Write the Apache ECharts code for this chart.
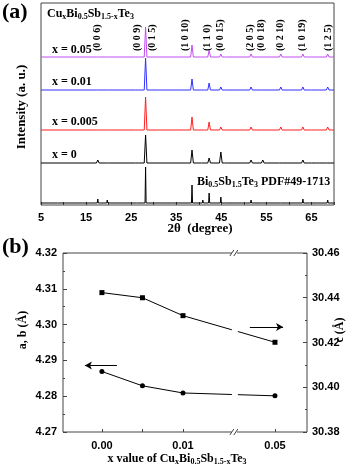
<!DOCTYPE html>
<html>
<head>
<meta charset="utf-8">
<script src="https://cdn.jsdelivr.net/npm/echarts@6.0.0/dist/echarts.min.js"></script>
<style>
  html, body { margin: 0; padding: 0; background: #fff; }
  #chart { width: 354px; height: 469px; }
</style>
</head>
<body>
<div id="chart"></div>
<script>
// ---- (a) XRD patterns ----
// peak positions (2theta, deg) shared by the measured patterns
const peakPos = [17.6, 19.7, 26.3, 28.2, 38.5, 40.9, 42.3, 44.9, 46.0, 51.6, 54.2, 58.2, 63.1, 64.7, 66.4, 68.6]
// peak heights (arbitrary units)
const hX005 = [2, 0.5, 1.5, 30, 12, 1.5, 7, 3, 1.5, 3, 2, 3, 3, 1, 1.5, 3]
const hX001 = [2, 0.5, 1, 32, 11, 2, 7, 3, 1.5, 3, 2, 3, 3, 1, 1.5, 3]
const hX0005 = [2, 0.5, 1, 33, 13, 2, 8, 3, 1, 3, 2, 3, 3, 1, 1.5, 3]
const hX0 = [3, 1.5, 1, 28, 13, 2, 5, 11, 1.5, 3, 3, 2, 3, 1, 2, 2]
// reference PDF#49-1713 sticks
const refPos = [8.8, 14.4, 17.6, 19.7, 26.3, 28.2, 34.0, 38.5, 40.9, 42.3, 44.9, 46.0, 47.5, 49.5, 50.5, 51.6, 54.2, 58.2, 63.1, 64.7, 66.4, 68.6]
const refH = [1, 0.5, 4, 3, 2, 36, 1, 18, 3, 10, 6, 2, 1, 1, 1.5, 3, 2, 2, 4, 2, 2, 3]
// vertical offsets of the stacked traces
const traceNames = ['PDF', 'x = 0', 'x = 0.005', 'x = 0.01', 'x = 0.05']
const traceOffset = [2, 42, 75, 115, 148]
const traceColor = ['#000000', '#000000', '#ff1f1f', '#2f2fff', '#c24cf2']
const xTicks2t = [5, 15, 25, 35, 45, 55, 65]

// hkl labels: [text, 2theta position]
const hklText = ['(0 0 6)', '(0 0 9)', '(0 1 5)', '(1 0 10)', '(1 1 0)', '(0 0 15)', '(2 0 5)', '(0 0 18)', '(0 2 10)', '(1 0 19)', '(1 2 5)']
const hklPos = [17.5, 26.4, 29.7, 37.1, 42.0, 44.9, 51.5, 54.0, 58.2, 62.9, 68.7]

// ---- (b) lattice parameters ----
const xLabels = ['0.00', '', '0.01', '0.05']
const xPos = [0, 1, 2, 4.27]       // position on the broken axis
const latA = [4.2869, 4.2829, 4.2809, 4.2801]
const latC = [30.4423, 30.4400, 30.4320, 30.4201]

const SERIF = '"Liberation Serif", "DejaVu Serif", serif'
const SANS = '"Liberation Sans", Arial, sans-serif'

// build a trace from peaks (base + triangular peaks)
const buildTrace = (pos, h, off, w) => {
  const pts = [[5, off]]
  pos.forEach((p, i) => {
    pts.push([p - w, off], [p, off + h[i]], [p + w, off])
  })
  pts.push([70, off])
  return pts
}

const traces = [
  buildTrace(refPos, refH, traceOffset[0], 0.12),
  buildTrace(peakPos, hX0, traceOffset[1], 0.3),
  buildTrace(peakPos, hX0005, traceOffset[2], 0.3),
  buildTrace(peakPos, hX001, traceOffset[3], 0.3),
  buildTrace(peakPos, hX005, traceOffset[4], 0.3)
]

const rich = {
  n: { fontSize: 12, fontWeight: 'bold', fontFamily: SERIF, fill: '#000', color: '#000' },
  s: { fontSize: 8, fontWeight: 'bold', fontFamily: SERIF, fill: '#000', color: '#000', padding: [6, 0, 0, 0] }
}

const chart = echarts.init(document.getElementById('chart'))

const option = {
  animation: false,
  grid: [
    { left: 41, top: 3, right: 20, bottom: 264, show: true, borderColor: '#444', borderWidth: 1 },
    { left: 63, top: 253, right: 47, bottom: 37, show: true, borderColor: '#444', borderWidth: 1 }
  ],
  xAxis: [
    {
      gridIndex: 0, type: 'value', min: 5, max: 70, interval: 5,
      axisLine: { show: false, onZero: false },
      axisTick: { inside: true, length: 3, lineStyle: { color: '#444' } },
      splitLine: { show: false },
      axisLabel: {
        margin: 7, fontFamily: SANS, fontWeight: 'bold', fontSize: 11, color: '#000',
        formatter: v => xTicks2t.includes(v) ? String(v) : ''
      }
    },
    {
      gridIndex: 1, type: 'value', min: -0.96, max: 5.06,
      axisLine: { show: false, onZero: false },
      splitLine: { show: false },
      axisTick: { show: true, inside: true, length: 3, customValues: xPos, lineStyle: { color: '#444' } },
      axisLabel: {
        margin: 8, fontFamily: SANS, fontWeight: 'bold', fontSize: 11, color: '#000',
        customValues: xPos,
        formatter: v => xLabels[xPos.indexOf(v)] || ''
      }
    }
  ],
  yAxis: [
    {
      gridIndex: 0, type: 'value', min: 0, max: 202,
      axisLine: { show: false, onZero: false }, axisTick: { show: false }, axisLabel: { show: false }, splitLine: { show: false }
    },
    {
      gridIndex: 1, type: 'value', min: 4.27, max: 4.32, interval: 0.01, position: 'left',
      axisLine: { show: false, onZero: false }, splitLine: { show: false },
      axisTick: { inside: true, length: 4, lineStyle: { color: '#444' } },
      minorTick: { show: true, splitNumber: 2, length: 2, lineStyle: { color: '#444' } },
      axisLabel: { margin: 6, fontFamily: SANS, fontWeight: 'bold', fontSize: 11, color: '#000', formatter: v => v.toFixed(2) }
    },
    {
      gridIndex: 1, type: 'value', min: 30.38, max: 30.46, interval: 0.02, position: 'right',
      axisLine: { show: false, onZero: false }, splitLine: { show: false },
      axisTick: { inside: true, length: 4, lineStyle: { color: '#444' } },
      minorTick: { show: true, splitNumber: 2, length: 2, lineStyle: { color: '#444' } },
      axisLabel: { margin: 5, fontFamily: SANS, fontWeight: 'bold', fontSize: 11, color: '#000', formatter: v => v.toFixed(2) }
    }
  ],
  series: [
    ...traces.map((d, i) => ({
      name: traceNames[i], type: 'line', xAxisIndex: 0, yAxisIndex: 0,
      data: d, showSymbol: false, symbol: 'none',
      lineStyle: { width: 1, color: traceColor[i] }, z: 3
    })),
    {
      name: 'a, b', type: 'line', xAxisIndex: 1, yAxisIndex: 1,
      data: xPos.map((p, i) => [p, latA[i]]),
      symbol: 'circle', symbolSize: 5,
      itemStyle: { color: '#000' }, lineStyle: { width: 1, color: '#000' },
      markLine: {
        silent: true, symbol: ['none', 'arrow'], symbolSize: [6, 7],
        label: { show: false },
        lineStyle: { color: '#000', width: 1, type: 'solid' },
        data: [[{ coord: [0.37, 4.2886] }, { coord: [-0.42, 4.2886] }]]
      }
    },
    {
      name: 'c', type: 'line', xAxisIndex: 1, yAxisIndex: 2,
      data: xPos.map((p, i) => [p, latC[i]]),
      symbol: 'rect', symbolSize: 5,
      itemStyle: { color: '#000' }, lineStyle: { width: 1, color: '#000' },
      markLine: {
        silent: true, symbol: ['none', 'arrow'], symbolSize: [6, 7],
        label: { show: false },
        lineStyle: { color: '#000', width: 1, type: 'solid' },
        data: [[{ coord: [3.65, 30.4269] }, { coord: [4.47, 30.4269] }]]
      }
    }
  ]
}

chart.setOption(option)

// annotations placed from axis coordinates
const px = (xi, v) => chart.convertToPixel({ xAxisIndex: xi }, v)
const py = (yi, v) => chart.convertToPixel({ yAxisIndex: yi }, v)

const graphics = []
// panel letters
graphics.push({ type: 'text', x: 2, y: 1, style: { text: '(a)', font: `bold 22px ${SERIF}`, fill: '#000' } })
graphics.push({ type: 'text', x: 2, y: 236, style: { text: '(b)', font: `bold 22px ${SERIF}`, fill: '#000' } })

// formula title
graphics.push({ type: 'text', x: 47, y: 7, style: { text: '{n|Cu}{s|x}{n|Bi}{s|0.5}{n|Sb}{s|1.5-x}{n|Te}{s|3}', rich } })

// trace labels
const labelY = [null, 155, 122, 82, 50]
traceNames.forEach((t, i) => {
  if (i === 0) return
  graphics.push({ type: 'text', x: 52, y: labelY[i], style: { text: t, font: `bold 12px ${SERIF}`, fill: '#000', verticalAlign: 'middle' } })
})
graphics.push({ type: 'text', x: 197, y: 175, style: { text: '{n|Bi}{s|0.5}{n|Sb}{s|1.5}{n|Te}{s|3}{n| PDF#49-1713}', rich } })

// hkl labels (rotated, reading upwards)
hklText.forEach((t, i) => {
  graphics.push({
    type: 'text', x: px(0, hklPos[i]), y: 51, rotation: Math.PI / 2,
    style: { text: t, font: `bold 10px ${SERIF}`, fill: '#000', align: 'left', verticalAlign: 'middle' }
  })
})

// axis titles
graphics.push({ type: 'text', x: 22, y: 107, rotation: Math.PI / 2,
  style: { text: 'Intensity (a. u.)', font: `bold 13px ${SERIF}`, fill: '#000', align: 'center', verticalAlign: 'middle' } })
graphics.push({ type: 'text', x: 200, y: 229,
  style: { text: '2\u03b8  (degree)', font: `bold 13px ${SERIF}`, fill: '#000', align: 'center', verticalAlign: 'middle' } })
graphics.push({ type: 'text', x: 23, y: 330, rotation: Math.PI / 2,
  style: { text: 'a, b (\u00c5)', font: `bold 12px ${SERIF}`, fill: '#000', align: 'center', verticalAlign: 'middle' } })
graphics.push({ type: 'text', x: 340, y: 330, rotation: Math.PI / 2,
  style: { text: 'c (\u00c5)', font: `bold 12px ${SERIF}`, fill: '#000', align: 'center', verticalAlign: 'middle' } })
graphics.push({ type: 'text', x: 177, y: 452,
  style: { text: '{n|x value of Cu}{s|x}{n|Bi}{s|0.5}{n|Sb}{s|1.5-x}{n|Te}{s|3}', rich, align: 'center' } })

// axis break in (b)
const bx = px(1, 3.28)
const gTop = py(1, 4.32), gBot = py(1, 4.27)
graphics.push({ type: 'rect', shape: { x: bx - 3, y: gTop + 2, width: 6, height: gBot - gTop - 4 }, style: { fill: '#fff' }, z: 100 })
;[gTop, gBot].forEach(yy => {
  graphics.push({ type: 'rect', shape: { x: bx - 3, y: yy - 1, width: 5, height: 2 }, style: { fill: '#fff' }, z: 100 })
  graphics.push({ type: 'line', shape: { x1: bx - 5, y1: yy + 3, x2: bx - 1, y2: yy - 3 }, style: { stroke: '#444', lineWidth: 1 }, z: 101 })
  graphics.push({ type: 'line', shape: { x1: bx - 1, y1: yy + 3, x2: bx + 3, y2: yy - 3 }, style: { stroke: '#444', lineWidth: 1 }, z: 101 })
})

chart.setOption({ graphic: graphics })
</script>
</body>
</html>
